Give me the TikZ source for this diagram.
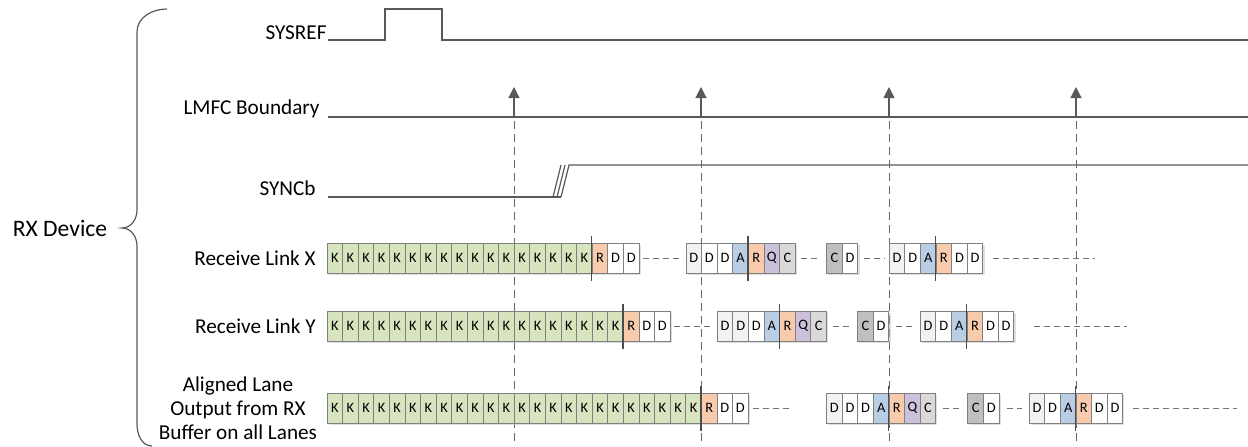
\documentclass[tikz,border=0pt]{standalone}
\usepackage{fontspec}
\setmainfont{Carlito}
\usetikzlibrary{arrows.meta,shadows}

\definecolor{kgreen}{HTML}{D7E4BD}
\definecolor{rorange}{HTML}{F8CBAD}
\definecolor{ablue}{HTML}{B9CDE5}
\definecolor{qpurple}{HTML}{CCC1DA}
\definecolor{cgray}{HTML}{D9D9D9}
\definecolor{cdark}{HTML}{BFBFBF}
\definecolor{dlight}{HTML}{F2F2F2}
\definecolor{linegray}{HTML}{595959}

\tikzset{
	cell/.style={rectangle, draw=black!50, line width=0.5pt, minimum width=7.8pt, minimum height=15pt, inner sep=0pt,
		font=\fontsize{7.2}{8}\selectfont, drop shadow={shadow xshift=0.8pt, shadow yshift=-0.8pt, fill=black!25, opacity=0.5}},
	lbl/.style={inner sep=0pt, font=\fontsize{10.6}{12}\selectfont},
	sig/.style={draw=linegray, line width=0.6pt},
	markline/.style={draw=black!70, line width=0.6pt},
	gapline/.style={draw=black!55, line width=0.5pt, dash pattern=on 3pt off 2pt},
	lmfcline/.style={draw=black!60, line width=0.5pt, dash pattern=on 4pt off 2.5pt}
}

% one group of cells: name, x of first cell, y, fill/letter list
\newcommand\lane[4]{%
	\foreach \f/\t [count=\i] in {#4}
		\node[cell, fill=\f] (#1\i) at ({#2+(\i-0.5)*15.6},#3) {\t};}
% run of K cells: name, count, y
\newcommand\krun[3]{%
	\foreach \i in {1,...,#2}
		\node[cell, fill=kgreen] (#1\i) at ({327+(\i-0.5)*15.6},#3) {K};}

\begin{document}
\begin{tikzpicture}[x=0.5pt,y=-0.5pt]
	\useasboundingbox (0,0) rectangle (1248,446);

	% labels
	\node[lbl, anchor=base east] (sysref) at (327,39) {SYSREF};
	\node[lbl, anchor=base east] (lmfc) at (320,114) {LMFC Boundary};
	\node[lbl, anchor=base east] (sync) at (316,195) {SYNCb};
	\node[lbl, anchor=east] (linkx) at (316,258) {Receive Link X};
	\node[lbl, anchor=east] (linky) at (316,326) {Receive Link Y};
	\node[lbl, align=center] (aligned) at (238,408) {Aligned Lane\\Output from RX\\Buffer on all Lanes};
	\node[inner sep=0pt, font=\fontsize{11.8}{13}\selectfont] (rx) at (60,228) {RX Device};

	\draw[sig] (167,9) to[out=180,in=90] (137,32) -- (137,210) to[out=-90,in=0] (122,228)
		to[out=0,in=90] (137,246) -- (137,424) to[out=-90,in=180] (152,446);

	% signals
	\draw[sig] (328,40) -- (385,40) -- (385,9) -- (442,9) -- (442,40) -- (1248,40);
	\draw[sig] (328,117) -- (1248,117);
	\draw[sig] (328,197) -- (561,197);
	\draw[sig] (553,197) -- (561,165);
	\draw[sig] (557,197) -- (565,165);
	\draw[sig] (561,197) -- (569,165) -- (1248,165);

	% LMFC boundaries
	\foreach \x [count=\i] in {514,701,889,1076} {
		\coordinate (lm\i) at (\x,117);
		\draw[sig, -{Triangle[width=5.5pt,length=5.5pt]}] (lm\i) -- ++(0,-30);
		\draw[lmfcline] ([yshift=-2pt]lm\i) -- (\x,446);
	}

	% Receive Link X
	\krun{xk}{17}{258}
	\lane{xa}{592.2}{258}{rorange/R,white/D,white/D}
	\lane{xb}{686}{258}{dlight/D,white/D,white/D,ablue/A,rorange/R,qpurple/Q,cgray/C}
	\lane{xc}{826.7}{258}{cdark/C,white/D}
	\lane{xd}{889.3}{258}{dlight/D,white/D,ablue/A,rorange/R,white/D,white/D}
	\coordinate (xe) at (1095,258);

	% Receive Link Y
	\krun{yk}{19}{326}
	\lane{ya}{623.4}{326}{rorange/R,white/D,white/D}
	\lane{yb}{717.3}{326}{dlight/D,dlight/D,white/D,ablue/A,rorange/R,qpurple/Q,cgray/C}
	\lane{yc}{857.7}{326}{cdark/C,white/D}
	\lane{yd}{920.3}{326}{dlight/D,white/D,ablue/A,rorange/R,white/D,white/D}
	\coordinate (ye) at (1127,326);

	% Aligned lanes
	\krun{ak}{24}{408}
	\lane{aa}{701.4}{408}{rorange/R,white/D,white/D}
	\lane{ab}{826.6}{408}{dlight/D,white/D,white/D,ablue/A,rorange/R,qpurple/Q,cgray/C}
	\lane{ac}{967.8}{408}{cdark/C,white/D}
	\lane{ad}{1029.2}{408}{dlight/D,white/D,ablue/A,rorange/R,white/D,white/D}
	\coordinate (a0) at (791,408);
	\coordinate (ae) at (1237,408);

	% markers
	\foreach \n in {xa1,xb5,xd4,ya1,yb5,yd4,aa1,ab5,ad4}
		\draw[markline] ([yshift=3.5pt]\n.north west) -- ([yshift=-3.5pt]\n.south west);

	% gaps
	\draw[gapline] ([xshift=1.5pt]xa3.east) -- ([xshift=-1.5pt]xb1.west);
	\draw[gapline] ([xshift=2.5pt]xb7.east) -- ([xshift=-3pt]xc1.west);
	\draw[gapline] ([xshift=3pt]xc2.east) -- ([xshift=-2pt]xd1.west);
	\draw[gapline] ([xshift=5pt]xd6.east) -- (xe);

	\draw[gapline] ([xshift=1.5pt]ya3.east) -- ([xshift=-2pt]yb1.west);
	\draw[gapline] ([xshift=3pt]yb7.east) -- ([xshift=-3pt]yc1.west);
	\draw[gapline] ([xshift=3.5pt]yc2.east) -- ([xshift=-3.5pt]yd1.west);
	\draw[gapline] ([xshift=10pt]yd6.east) -- (ye);

	\draw[gapline] ([xshift=2pt]aa3.east) -- (a0);
	\draw[gapline] ([xshift=3.5pt]ab7.east) -- ([xshift=-3.5pt]ac1.west);
	\draw[gapline] ([xshift=3.5pt]ac2.east) -- ([xshift=-3.5pt]ad1.west);
	\draw[gapline] ([xshift=5pt]ad6.east) -- (ae);
\end{tikzpicture}
\end{document}
